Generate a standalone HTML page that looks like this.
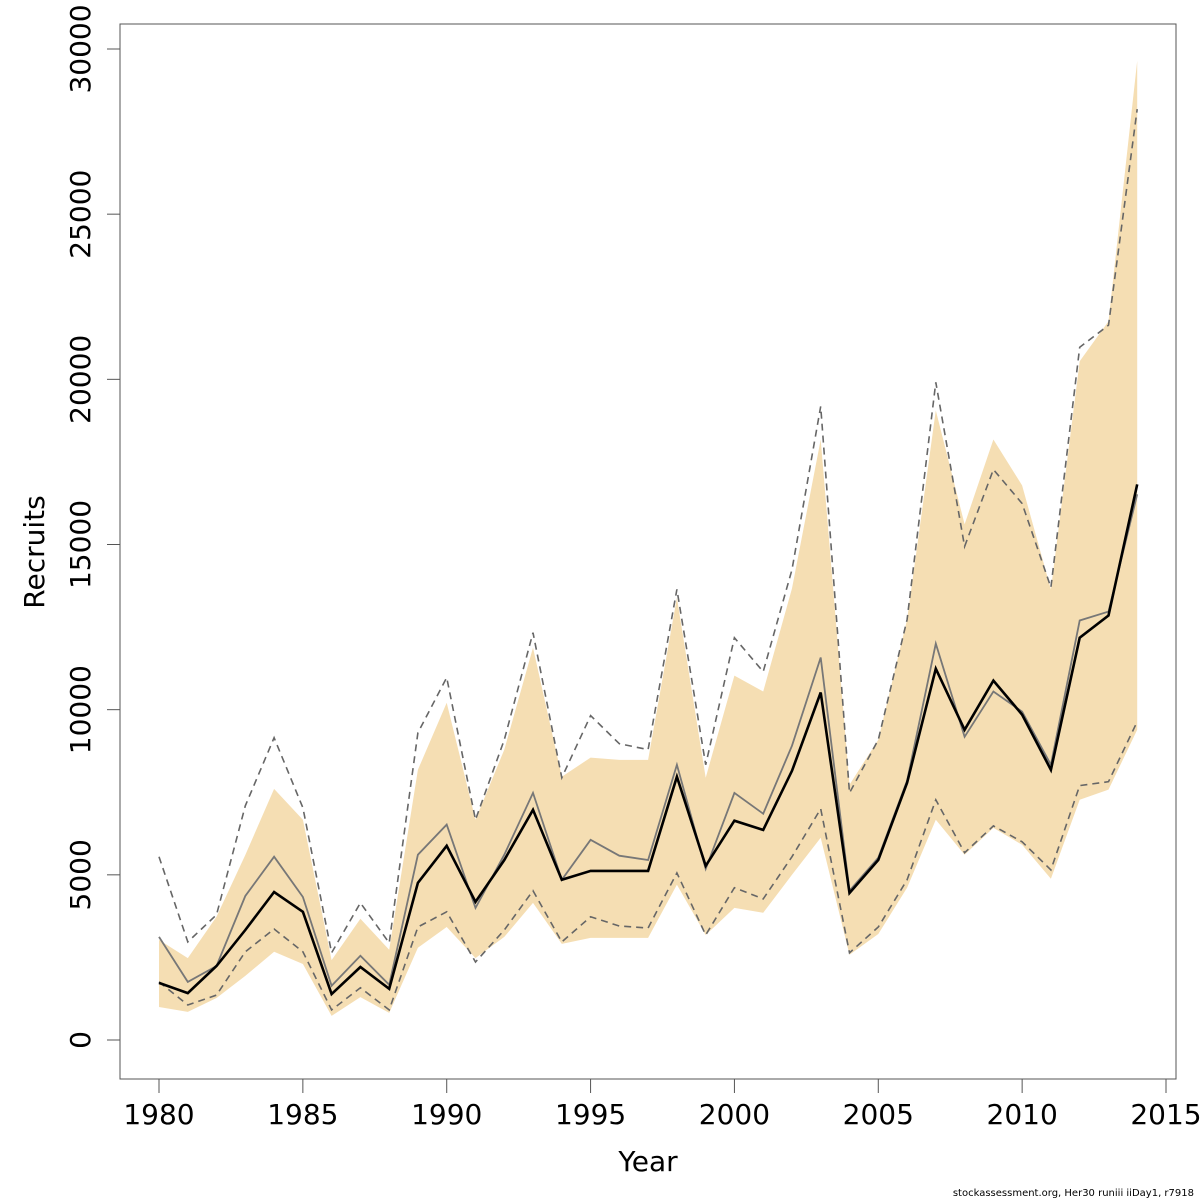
<!DOCTYPE html>
<html><head><meta charset="utf-8"><style>
body{margin:0;background:#fff}
svg{display:block;font-family:"DejaVu Sans","Liberation Sans",sans-serif}
</style></head><body>
<svg id="chart" width="1200" height="1200">
<rect x="120" y="24" width="1056" height="1055" fill="none" stroke="#555" stroke-width="1"/>
<g id="band"></g>
<g id="lines"></g>
<g id="xaxis"></g>
<g id="yaxis"></g>
<text x="648" y="1171" font-size="28" text-anchor="middle">Year</text>
<text transform="translate(44,552) rotate(-90)" font-size="28" text-anchor="middle">Recruits</text>
<text x="1194" y="1196" font-size="10" text-anchor="end">stockassessment.org, Her30  runiii  iiDay1, r7918</text>
</svg>
<script>
const years=[1980,1981,1982,1983,1984,1985,1986,1987,1988,1989,1990,1991,1992,1993,1994,1995,1996,1997,1998,1999,2000,2001,2002,2003,2004,2005,2006,2007,2008,2009,2010,2011,2012,2013,2014];
const estimate=[1730,1420,2240,3330,4480,3880,1390,2210,1550,4760,5880,4180,5450,6970,4850,5120,5120,5120,7970,5270,6640,6360,8150,10520,4450,5450,7790,11240,9390,10880,9850,8180,12180,12850,16820];
const mean=[3120,1760,2240,4360,5550,4330,1640,2550,1670,5610,6520,4000,5610,7480,4850,6060,5580,5450,8330,5180,7480,6850,8910,11580,4520,5520,7850,12000,9180,10550,9940,8330,12700,12970,16520];
const upperDashed=[5550,2970,3790,7090,9150,7030,2640,4150,2940,9300,10970,6670,9090,12330,7940,9820,8970,8790,13640,8330,12180,11150,14240,19180,7480,9090,12730,19910,14940,17270,16240,13700,20970,21640,28180];
const lowerDashed=[1760,1060,1360,2670,3360,2670,910,1580,910,3420,3880,2360,3330,4520,2970,3730,3450,3390,5060,3180,4610,4270,5550,7000,2640,3420,4850,7270,5670,6480,6000,5150,7700,7820,9640];
const bandUpper=[3030,2480,3730,5600,7600,6670,2420,3670,2730,8180,10210,6670,8790,11880,7970,8550,8480,8480,13390,7940,11030,10550,13670,18180,7730,9090,12730,19060,15610,18180,16790,13640,20550,21760,29640];
const bandLower=[1000,850,1270,1940,2670,2300,730,1300,820,2790,3420,2480,3120,4150,2910,3090,3090,3090,4700,3180,4000,3850,5000,6120,2580,3210,4610,6670,5610,6420,5910,4880,7270,7580,9390];
const xTicks=[1980,1985,1990,1995,2000,2005,2010,2015];
const yTicks=[0,5000,10000,15000,20000,25000,30000];

const NS='http://www.w3.org/2000/svg';
function X(yr){return 159+(yr-1980)*(1166-159)/35;}
function Y(v){return 1040-v*(1040-49)/30000;}
function mk(tag,attrs,parent){const e=document.createElementNS(NS,tag);for(const k in attrs)e.setAttribute(k,attrs[k]);parent.appendChild(e);return e;}
function pts(arr){return arr.map((v,i)=>X(years[i]).toFixed(1)+','+Y(v).toFixed(1)).join(' ');}

const band=document.getElementById('band');
const poly=mk('polygon',{fill:'#F5DEB3',stroke:'none',points:pts(bandUpper)+' '+bandLower.map((v,i)=>[X(years[i]),Y(v)]).reverse().map(p=>p[0].toFixed(1)+','+p[1].toFixed(1)).join(' ')},band);



const lines=document.getElementById('lines');
const l1=mk('polyline',{points:pts(upperDashed),fill:'none',stroke:'#666','stroke-width':1.6,'stroke-dasharray':'7,5'},lines);


const l2=mk('polyline',{points:pts(lowerDashed),fill:'none',stroke:'#666','stroke-width':1.6,'stroke-dasharray':'7,5'},lines);


const l3=mk('polyline',{points:pts(mean),fill:'none',stroke:'#777','stroke-width':1.8},lines);


const l4=mk('polyline',{points:pts(estimate),fill:'none',stroke:'#000','stroke-width':2.6},lines);



const xa=document.getElementById('xaxis');
mk('line',{x1:X(1980),x2:X(2015),y1:1079,y2:1079,stroke:'#555'},xa);
xTicks.forEach(t=>{
  mk('line',{x1:X(t),x2:X(t),y1:1079,y2:1093,stroke:'#555'},xa);
  const tx=mk('text',{x:X(t),y:1124,'font-size':28,'text-anchor':'middle'},xa);
  tx.textContent=t;
  
  
});
const ya=document.getElementById('yaxis');
yTicks.forEach(t=>{
  mk('line',{x1:107,x2:120,y1:Y(t),y2:Y(t),stroke:'#555'},ya);
  const tx=mk('text',{transform:`translate(90,${Y(t)}) rotate(-90)`,'font-size':28,'text-anchor':'middle'},ya);
  tx.textContent=t;
  
  
});
</script>
</body></html>
